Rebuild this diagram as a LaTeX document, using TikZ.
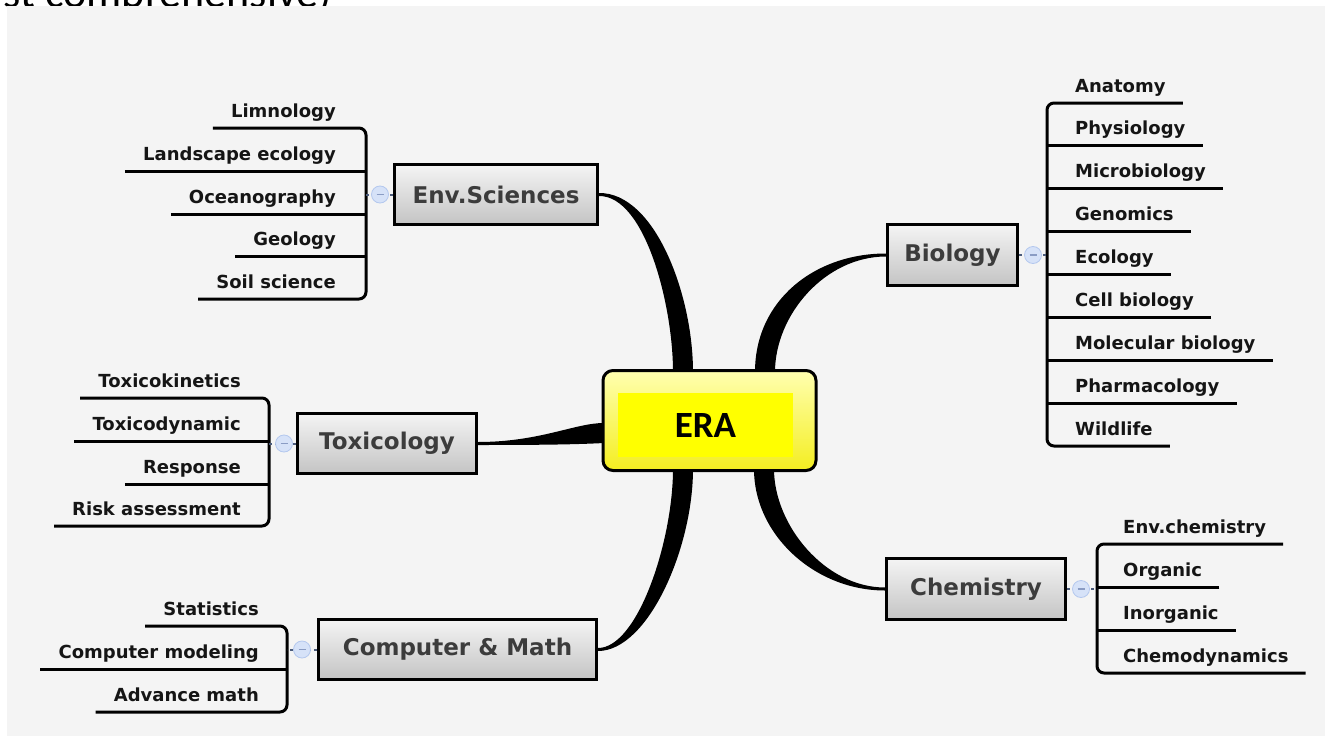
\documentclass[tikz,border=0pt]{standalone}
\usepackage{fontspec}
\setmainfont{DejaVu Sans}
\newfontfamily\carl{Carlito}
\usetikzlibrary{calc}
\definecolor{bgc}{HTML}{F4F4F4}
\definecolor{boxtop}{HTML}{F4F4F4}
\definecolor{boxbot}{HTML}{C4C4C4}
\definecolor{boxtext}{HTML}{3C3C3C}
\definecolor{childtext}{HTML}{151515}
\definecolor{foldfill}{HTML}{D6E2F8}
\definecolor{folddraw}{HTML}{B4C8EE}
\definecolor{foldline}{HTML}{4A5A7A}
\definecolor{foldmark}{HTML}{8A9CC4}
\definecolor{eratop}{HTML}{FFFFB0}
\definecolor{erabot}{HTML}{F4EE20}
\definecolor{erain}{HTML}{FFFF00}
\begin{document}
\begin{tikzpicture}[x=1pt,y=-1pt,
  box/.style={draw=black, line width=3pt, top color=boxtop, bottom color=boxbot, text=boxtext,
    font=\fontsize{23}{27}\selectfont\bfseries, inner sep=0pt},
  child/.style={font=\fontsize{18}{21}\selectfont\bfseries, text=childtext, inner sep=0pt},
  branch/.style={line width=3pt, rounded corners=7pt},
  twig/.style={line width=3pt},
  fold/.style={circle, fill=foldfill, draw=folddraw, line width=0.8pt, minimum size=17pt, inner sep=0pt},
  foldlink/.style={draw=foldline, line width=2pt, dash pattern=on 3pt off 3pt},
  foldbar/.style={draw=foldmark, line width=1.2pt},
  trunk/.style={fill=black}
]
\useasboundingbox (0,0) rectangle (1325,736);
\clip (0,0) rectangle (1325,736);

% header remnant
\node[anchor=base east, font=\carl\fontsize{44}{50}\selectfont, inner sep=0pt] (hdr) at (332,7) {ist comprehensive)};
\fill[bgc] (7,6) rectangle (1325,736);

% main boxes
\node[box, minimum width=203pt, minimum height=60pt] (env) at (496,194.5) {Env.Sciences};
\node[box, minimum width=130pt, minimum height=61pt] (bio) at (952.5,255) {Biology};
\node[box, minimum width=179pt, minimum height=60pt] (tox) at (387,443.5) {Toxicology};
\node[box, minimum width=278pt, minimum height=60pt] (cm) at (457.5,649.5) {Computer \& Math};
\node[box, minimum width=179pt, minimum height=61pt] (chem) at (976,589) {Chemistry};

% reference points on the central node
\coordinate (eracenter) at (709.5,420.5);
\coordinate (eran) at (709.5,369);
\coordinate (eras) at (709.5,472);
\coordinate (eraw) at (601,420.5);

% tapered trunks
\fill[trunk] ($(env.east)+(0,-1.5)$) .. controls (655,192.5) and (693,295) .. ($(eran)+(-16.5,3)$)
  -- ($(eran)+(-36.5,3)$) .. controls (673,305) and (645,195.5) .. ($(env.east)+(0,1.5)$) -- cycle;
\fill[trunk] ($(bio.west)+(0,-1.5)$) .. controls (815,253.5) and (755,300) .. ($(eran)+(45.5,3)$)
  -- ($(eran)+(65.5,3)$) .. controls (775,315) and (825,256.5) .. ($(bio.west)+(0,1.5)$) -- cycle;
\fill[trunk] ($(tox.east)+(0,-1.5)$) .. controls (540,442) and (575,423) .. ($(eraw)+(3,2.5)$)
  -- ($(eraw)+(3,22.5)$) .. controls (575,444.5) and (540,445) .. ($(tox.east)+(0,1.5)$) -- cycle;
\fill[trunk] ($(cm.east)+(0,1.5)$) .. controls (648,651) and (693,548) .. ($(eras)+(-16.5,-3)$)
  -- ($(eras)+(-36.5,-3)$) .. controls (673,540) and (638,648) .. ($(cm.east)+(0,-1.5)$) -- cycle;
\fill[trunk] ($(chem.west)+(0,1.5)$) .. controls (815,590.5) and (754,535) .. ($(eras)+(44.5,-3)$)
  -- ($(eras)+(64.5,-3)$) .. controls (774,525) and (825,587.5) .. ($(chem.west)+(0,-1.5)$) -- cycle;

% ERA
\node[draw=black, line width=3pt, rounded corners=10pt, top color=eratop, bottom color=erabot,
  minimum width=213pt, minimum height=100pt, inner sep=0pt] (era) at (eracenter) {};
\node[fill=erain, minimum width=175pt, minimum height=64pt, inner sep=0pt,
  font=\carl\bfseries\fontsize{37}{40}\selectfont] (erainner) at (705.5,425) {ERA};

% ---------- Env.Sciences group ----------
\node[child, anchor=base east] (e1) at (336,117) {Limnology};
\node[child, anchor=base east] (e2) at (336,160) {Landscape ecology};
\node[child, anchor=base east] (e3) at (336,203) {Oceanography};
\node[child, anchor=base east] (e4) at (336,245) {Geology};
\node[child, anchor=base east] (e5) at (336,288) {Soil science};
\draw[branch] ($(e1.base west)+(-18,11)$) -- (366,128) -- (366,299) -- ($(e5.base west)+(-18,11)$);
\draw[twig] ($(e2.base west)+(-18,11)$) -- (366,171);
\draw[twig] ($(e3.base west)+(-18,11)$) -- (366,214);
\draw[twig] ($(e4.base west)+(-18,11)$) -- (366,256);
\draw[foldlink] (env.west) -- (366,194.5);
\node[fold] (envf) at (380,194.5) {};
\draw[foldbar] ($(envf.center)+(-3.5,0)$) -- ($(envf.center)+(3.5,0)$);

% ---------- Toxicology group ----------
\node[child, anchor=base east] (t1) at (241,387) {Toxicokinetics};
\node[child, anchor=base east] (t2) at (241,430) {Toxicodynamic};
\node[child, anchor=base east] (t3) at (241,473) {Response};
\node[child, anchor=base east] (t4) at (241,515) {Risk assessment};
\draw[branch] ($(t1.base west)+(-18,11)$) -- (269,398) -- (269,526) -- ($(t4.base west)+(-18,11)$);
\draw[twig] ($(t2.base west)+(-18,11)$) -- (269,441);
\draw[twig] ($(t3.base west)+(-18,11)$) -- (269,484);
\draw[foldlink] (tox.west) -- (269,443.5);
\node[fold] (toxf) at (284,443.5) {};
\draw[foldbar] ($(toxf.center)+(-3.5,0)$) -- ($(toxf.center)+(3.5,0)$);

% ---------- Computer & Math group ----------
\node[child, anchor=base east] (c1) at (259,615) {Statistics};
\node[child, anchor=base east] (c2) at (259,658) {Computer modeling};
\node[child, anchor=base east] (c3) at (259,701) {Advance math};
\draw[branch] ($(c1.base west)+(-18,11)$) -- (287,626) -- (287,712) -- ($(c3.base west)+(-18,11)$);
\draw[twig] ($(c2.base west)+(-18,11)$) -- (287,669);
\draw[foldlink] (cm.west) -- (287,649.5);
\node[fold] (cmf) at (302,649.5) {};
\draw[foldbar] ($(cmf.center)+(-3.5,0)$) -- ($(cmf.center)+(3.5,0)$);

% ---------- Biology group ----------
\node[child, anchor=base west] (b1) at (1075,92) {Anatomy};
\node[child, anchor=base west] (b2) at (1075,134.9) {Physiology};
\node[child, anchor=base west] (b3) at (1075,177.75) {Microbiology};
\node[child, anchor=base west] (b4) at (1075,220.6) {Genomics};
\node[child, anchor=base west] (b5) at (1075,263.5) {Ecology};
\node[child, anchor=base west] (b6) at (1075,306.4) {Cell biology};
\node[child, anchor=base west] (b7) at (1075,349.25) {Molecular biology};
\node[child, anchor=base west] (b8) at (1075,392.1) {Pharmacology};
\node[child, anchor=base west] (b9) at (1075,435) {Wildlife};
\draw[branch] ($(b1.base east)+(17,11)$) -- (1047,103) -- (1047,446) -- ($(b9.base east)+(17,11)$);
\foreach \n in {b2,b3,b4,b5,b6,b7,b8}{
  \draw[twig] ($(\n.base east)+(17,11)$) -- ($(\n.base west)+(-28,11)$);
}
\draw[foldlink] (bio.east) -- (1047,255);
\node[fold] (biof) at (1033,255) {};
\draw[foldbar] ($(biof.center)+(-3.5,0)$) -- ($(biof.center)+(3.5,0)$);

% ---------- Chemistry group ----------
\node[child, anchor=base west] (h1) at (1123,533) {Env.chemistry};
\node[child, anchor=base west] (h2) at (1123,576) {Organic};
\node[child, anchor=base west] (h3) at (1123,619) {Inorganic};
\node[child, anchor=base west] (h4) at (1123,662) {Chemodynamics};
\draw[branch] ($(h1.base east)+(17,11)$) -- (1097,544) -- (1097,673) -- ($(h4.base east)+(17,11)$);
\draw[twig] ($(h2.base east)+(17,11)$) -- ($(h2.base west)+(-26,11)$);
\draw[twig] ($(h3.base east)+(17,11)$) -- ($(h3.base west)+(-26,11)$);
\draw[foldlink] (chem.east) -- (1097,589);
\node[fold] (chemf) at (1081,589) {};
\draw[foldbar] ($(chemf.center)+(-3.5,0)$) -- ($(chemf.center)+(3.5,0)$);
\end{tikzpicture}
\end{document}
